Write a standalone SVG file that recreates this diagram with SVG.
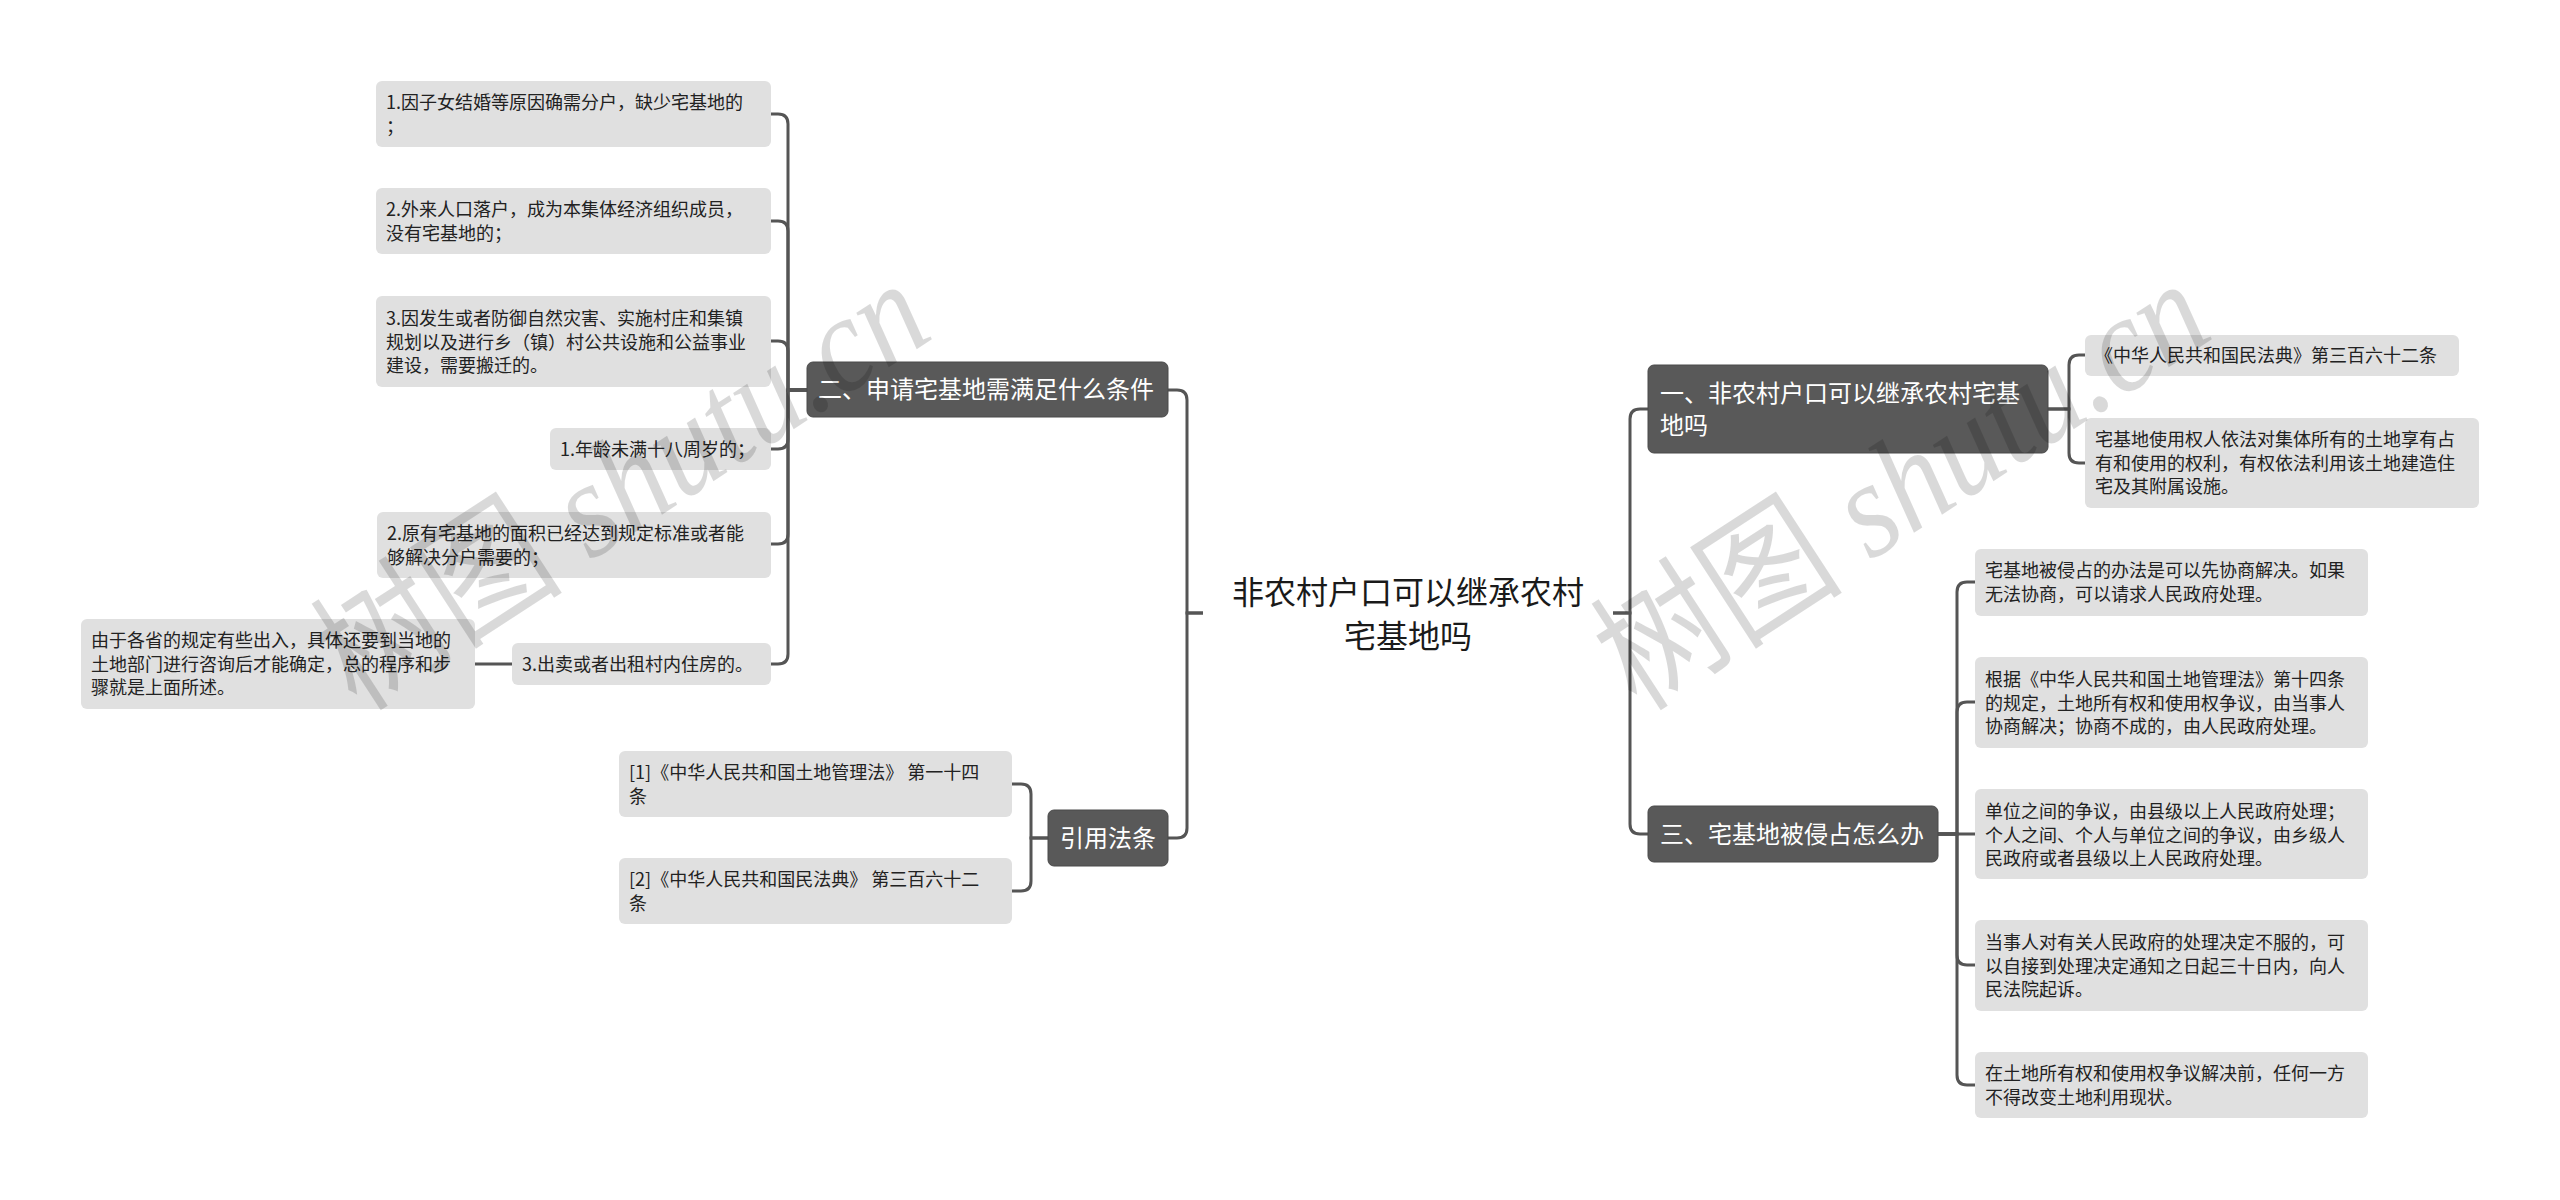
<svg xmlns="http://www.w3.org/2000/svg" width="2560" height="1200" viewBox="0 0 2560 1200">
<style>
text{font-family:"Noto Sans CJK SC","Liberation Sans",sans-serif;}
.node rect{fill:#595959;stroke:#4a4a4a;stroke-width:1;}
.node text{fill:#ffffff;font-size:24px;}
.leaf rect{fill:#e0e0e0;}
.leaf text{fill:#222222;font-size:18px;}
.root text{fill:#1a1a1a;font-size:32px;}
#connectors path{fill:none;stroke:#555555;stroke-width:3;}
.wm{font-family:"Liberation Serif","Noto Sans CJK SC",serif;font-size:138px;fill:#000000;fill-opacity:0.15;}
.wm .lat{font-style:italic;}
</style>
<rect x="0" y="0" width="2560" height="1200" fill="#ffffff"/>

<g id="connectors">
<path d="M1203 613 H1187 V400 Q1187 390 1177 390 H1168"/>
<path d="M1203 613 H1187 V828 Q1187 838 1177 838 H1168"/>
<path d="M807 390 H788 V124 Q788 114 778 114 H771"/>
<path d="M807 390 H788 V231 Q788 221 778 221 H771"/>
<path d="M807 390 H788 V351 Q788 341 778 341 H771"/>
<path d="M807 390 H788 V439 Q788 449 778 449 H771"/>
<path d="M807 390 H788 V534 Q788 544 778 544 H771"/>
<path d="M807 390 H788 V654 Q788 664 778 664 H771"/>
<path d="M512 664 H475"/>
<path d="M1048 838 H1031 V794 Q1031 784 1021 784 H1012"/>
<path d="M1048 838 H1031 V881 Q1031 891 1021 891 H1012"/>
<path d="M1613 613 H1630 V419 Q1630 409 1640 409 H1648"/>
<path d="M1613 613 H1630 V824 Q1630 834 1640 834 H1648"/>
<path d="M2048 409 H2069 V365 Q2069 355 2079 355 H2085"/>
<path d="M2048 409 H2069 V453 Q2069 463 2079 463 H2085"/>
<path d="M1938 834 H1957 V592 Q1957 582 1967 582 H1975"/>
<path d="M1938 834 H1957 V712 Q1957 702 1967 702 H1975"/>
<path d="M1938 834 H1975"/>
<path d="M1938 834 H1957 V955 Q1957 965 1967 965 H1975"/>
<path d="M1938 834 H1957 V1075 Q1957 1085 1967 1085 H1975"/>
</g>

<g id="root" class="root">
<text x="1408" y="604" text-anchor="middle">非农村户口可以继承农村</text>
<text x="1408" y="648" text-anchor="middle">宅基地吗</text>
</g>

<g id="node-er" class="node">
<rect x="807" y="362" width="361" height="55" rx="6"/>
<text x="818" y="398">二、申请宅基地需满足什么条件</text>
</g>
<g id="node-yinyong" class="node">
<rect x="1048" y="810" width="120" height="56" rx="6"/>
<text x="1060" y="847">引用法条</text>
</g>
<g id="node-yi" class="node">
<rect x="1648" y="365" width="400" height="88" rx="6"/>
<text x="1660" y="402">一、非农村户口可以继承农村宅基</text>
<text x="1660" y="434">地吗</text>
</g>
<g id="node-san" class="node">
<rect x="1648" y="806" width="290" height="56" rx="6"/>
<text x="1660" y="843">三、宅基地被侵占怎么办</text>
</g>

<g id="leaf-l1" class="leaf">
<rect x="376" y="81" width="395" height="66" rx="6"/>
<text x="386" y="109"><tspan x="386">1.因子女结婚等原因确需分户，缺少宅基地的</tspan><tspan x="386" dy="23.5">；</tspan></text>
</g>
<g id="leaf-l2" class="leaf">
<rect x="376" y="188" width="395" height="66" rx="6"/>
<text x="386" y="216"><tspan x="386">2.外来人口落户，成为本集体经济组织成员，</tspan><tspan x="386" dy="23.5">没有宅基地的；</tspan></text>
</g>
<g id="leaf-l3" class="leaf">
<rect x="376" y="296" width="395" height="91" rx="6"/>
<text x="386" y="325"><tspan x="386">3.因发生或者防御自然灾害、实施村庄和集镇</tspan><tspan x="386" dy="23.5">规划以及进行乡（镇）村公共设施和公益事业</tspan><tspan x="386" dy="23.5">建设，需要搬迁的。</tspan></text>
</g>
<g id="leaf-l4" class="leaf">
<rect x="550" y="428" width="221" height="42" rx="6"/>
<text x="560" y="456">1.年龄未满十八周岁的；</text>
</g>
<g id="leaf-l5" class="leaf">
<rect x="377" y="512" width="394" height="66" rx="6"/>
<text x="387" y="540"><tspan x="387">2.原有宅基地的面积已经达到规定标准或者能</tspan><tspan x="387" dy="23.5">够解决分户需要的；</tspan></text>
</g>
<g id="leaf-l6" class="leaf">
<rect x="512" y="643" width="259" height="42" rx="6"/>
<text x="522" y="671">3.出卖或者出租村内住房的。</text>
</g>
<g id="leaf-l7" class="leaf">
<rect x="81" y="619" width="394" height="90" rx="6"/>
<text x="91" y="647"><tspan x="91">由于各省的规定有些出入，具体还要到当地的</tspan><tspan x="91" dy="23.5">土地部门进行咨询后才能确定，总的程序和步</tspan><tspan x="91" dy="23.5">骤就是上面所述。</tspan></text>
</g>
<g id="leaf-ref1" class="leaf">
<rect x="619" y="751" width="393" height="66" rx="6"/>
<text x="629" y="779"><tspan x="629">[1]《中华人民共和国土地管理法》 第一十四</tspan><tspan x="629" dy="23.5">条</tspan></text>
</g>
<g id="leaf-ref2" class="leaf">
<rect x="619" y="858" width="393" height="66" rx="6"/>
<text x="629" y="886"><tspan x="629">[2]《中华人民共和国民法典》 第三百六十二</tspan><tspan x="629" dy="23.5">条</tspan></text>
</g>

<g id="leaf-r1" class="leaf">
<rect x="2085" y="335" width="374" height="41" rx="6"/>
<text x="2095" y="362">《中华人民共和国民法典》第三百六十二条</text>
</g>
<g id="leaf-r2" class="leaf">
<rect x="2085" y="418" width="394" height="90" rx="6"/>
<text x="2095" y="446"><tspan x="2095">宅基地使用权人依法对集体所有的土地享有占</tspan><tspan x="2095" dy="23.5">有和使用的权利，有权依法利用该土地建造住</tspan><tspan x="2095" dy="23.5">宅及其附属设施。</tspan></text>
</g>
<g id="leaf-r3" class="leaf">
<rect x="1975" y="549" width="393" height="67" rx="6"/>
<text x="1985" y="577"><tspan x="1985">宅基地被侵占的办法是可以先协商解决。如果</tspan><tspan x="1985" dy="23.5">无法协商，可以请求人民政府处理。</tspan></text>
</g>
<g id="leaf-r4" class="leaf">
<rect x="1975" y="657" width="393" height="91" rx="6"/>
<text x="1985" y="686"><tspan x="1985">根据《中华人民共和国土地管理法》第十四条</tspan><tspan x="1985" dy="23.5">的规定，土地所有权和使用权争议，由当事人</tspan><tspan x="1985" dy="23.5">协商解决；协商不成的，由人民政府处理。</tspan></text>
</g>
<g id="leaf-r5" class="leaf">
<rect x="1975" y="789" width="393" height="90" rx="6"/>
<text x="1985" y="818"><tspan x="1985">单位之间的争议，由县级以上人民政府处理；</tspan><tspan x="1985" dy="23.5">个人之间、个人与单位之间的争议，由乡级人</tspan><tspan x="1985" dy="23.5">民政府或者县级以上人民政府处理。</tspan></text>
</g>
<g id="leaf-r6" class="leaf">
<rect x="1975" y="920" width="393" height="91" rx="6"/>
<text x="1985" y="949"><tspan x="1985">当事人对有关人民政府的处理决定不服的，可</tspan><tspan x="1985" dy="23.5">以自接到处理决定通知之日起三十日内，向人</tspan><tspan x="1985" dy="23.5">民法院起诉。</tspan></text>
</g>
<g id="leaf-r7" class="leaf">
<rect x="1975" y="1052" width="393" height="66" rx="6"/>
<text x="1985" y="1080"><tspan x="1985">在土地所有权和使用权争议解决前，任何一方</tspan><tspan x="1985" dy="23.5">不得改变土地利用现状。</tspan></text>
</g>

<g id="watermark">
<text class="wm" x="358" y="712" transform="rotate(-33 358 712)" textLength="690" lengthAdjust="spacingAndGlyphs">树图 <tspan class="lat">shutu.cn</tspan></text>
<text class="wm" x="1638" y="712" transform="rotate(-33 1638 712)" textLength="690" lengthAdjust="spacingAndGlyphs">树图 <tspan class="lat">shutu.cn</tspan></text>
</g>
</svg>
